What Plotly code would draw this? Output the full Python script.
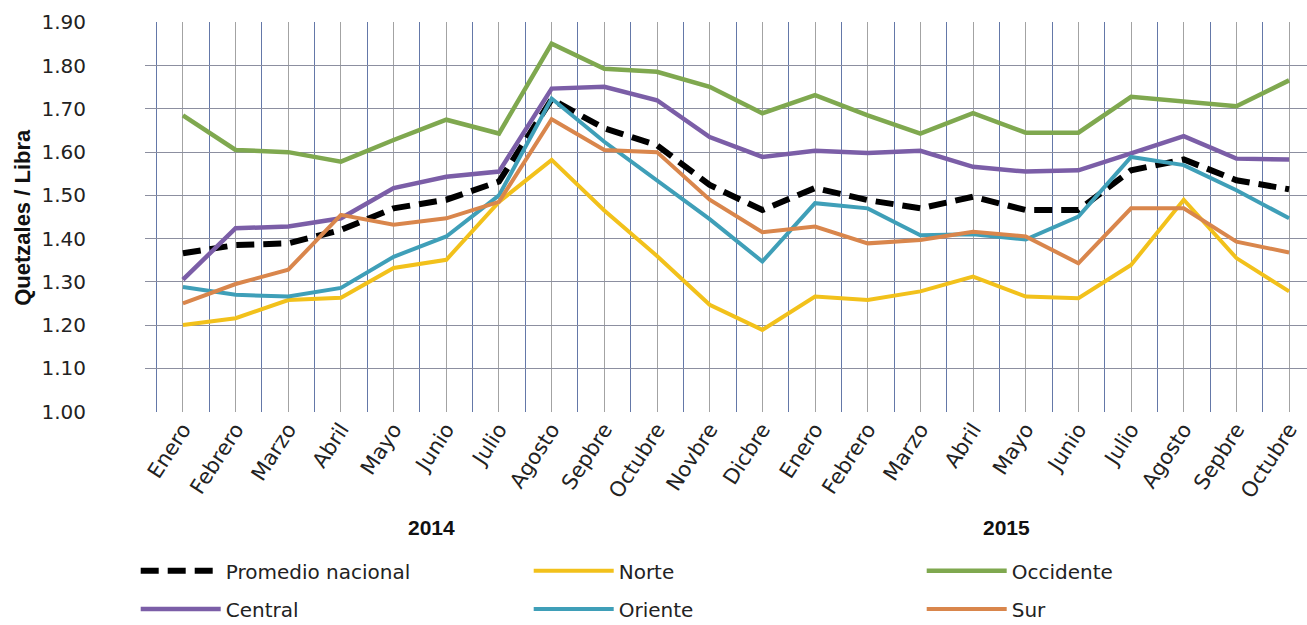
import plotly.graph_objects as go

meses = ["Enero", "Febrero", "Marzo", "Abril", "Mayo", "Junio", "Julio", "Agosto",
         "Sepbre", "Octubre", "Novbre", "Dicbre",
         "Enero", "Febrero", "Marzo", "Abril", "Mayo", "Junio", "Julio", "Agosto",
         "Sepbre", "Octubre"]
anios = ["2014", "2015"]

promedio = [1.366, 1.385, 1.389, 1.42, 1.47, 1.49, 1.532, 1.722, 1.655, 1.616, 1.524, 1.466,
            1.517, 1.489, 1.47, 1.497, 1.466, 1.466, 1.558, 1.583, 1.535, 1.514]
norte = [1.20, 1.216, 1.258, 1.263, 1.332, 1.351, 1.485, 1.582, 1.465, 1.36, 1.247, 1.189,
         1.266, 1.258, 1.278, 1.312, 1.266, 1.262, 1.339, 1.49, 1.355, 1.278]
occidente = [1.685, 1.605, 1.60, 1.578, 1.628, 1.675, 1.643, 1.851, 1.793, 1.786, 1.751, 1.69,
             1.732, 1.685, 1.643, 1.69, 1.645, 1.645, 1.728, 1.716, 1.706, 1.766]
central = [1.305, 1.424, 1.428, 1.447, 1.517, 1.543, 1.555, 1.747, 1.751, 1.72, 1.635, 1.589,
           1.603, 1.598, 1.603, 1.566, 1.555, 1.558, 1.597, 1.637, 1.585, 1.583]
oriente = [1.288, 1.27, 1.266, 1.286, 1.358, 1.405, 1.50, 1.724, 1.624, 1.535, 1.445, 1.347,
           1.482, 1.47, 1.408, 1.41, 1.398, 1.451, 1.589, 1.57, 1.512, 1.447]
sur = [1.25, 1.295, 1.328, 1.455, 1.432, 1.447, 1.485, 1.676, 1.605, 1.60, 1.49, 1.415,
       1.428, 1.389, 1.397, 1.416, 1.405, 1.343, 1.47, 1.47, 1.393, 1.368]

x = list(range(len(meses)))

FONT = "DejaVu Sans"

series = [
    ("Promedio nacional", promedio, "#000000", 6, "18px,9px", "legend"),
    ("Norte", norte, "#F2C11B", 4, "solid", "legend"),
    ("Occidente", occidente, "#7FA84F", 4.5, "solid", "legend"),
    ("Central", central, "#7B5EA7", 4.5, "solid", "legend2"),
    ("Oriente", oriente, "#3F9FB8", 4, "solid", "legend2"),
    ("Sur", sur, "#D9864C", 4, "solid", "legend2"),
]

fig = go.Figure()
for name, vals, color, w, dash, leg in series:
    fig.add_trace(go.Scatter(
        x=x, y=vals, mode="lines", name=name,
        line=dict(color=color, width=w, dash=dash),
        legend=leg,
    ))

fig.update_layout(
    width=1307, height=625,
    margin=dict(l=145, r=0, t=22, b=213, autoexpand=False),
    paper_bgcolor="white", plot_bgcolor="white",
    font=dict(family=FONT, color="#222222"),
    showlegend=True,
    legend=dict(orientation="h", x=-0.008, xanchor="left", y=-0.357, yanchor="top",
                entrywidth=298, entrywidthmode="pixels", itemwidth=80,
                font=dict(family=FONT, size=20, color="#222222"), bgcolor="rgba(0,0,0,0)"),
    legend2=dict(orientation="h", x=-0.008, xanchor="left", y=-0.455, yanchor="top",
                 entrywidth=298, entrywidthmode="pixels", itemwidth=80,
                 font=dict(family=FONT, size=20, color="#222222"), bgcolor="rgba(0,0,0,0)"),
)

fig.update_xaxes(
    range=[-0.72, 21.34],
    tickmode="array", tickvals=x, ticktext=meses,
    tickangle=-57,
    tickfont=dict(family=FONT, size=21, color="#222222"),
    showgrid=True, gridcolor="#A3A3A3", gridwidth=1,
    minor=dict(tickvals=[i - 0.5 for i in range(len(meses) + 1)], showgrid=True,
               gridcolor="#6478A8", gridwidth=1.2, ticks=""),
    ticks="", showline=False, zeroline=False, automargin=False,
)

fig.update_yaxes(
    range=[0.999, 1.901],
    tickmode="array", tickvals=[1.0 + 0.1 * i for i in range(10)],
    ticktext=["%.2f" % (1.0 + 0.1 * i) for i in range(10)],
    tickfont=dict(family=FONT, size=20, color="#222222"),
    ticklabelstandoff=58,
    showgrid=True, gridcolor="#8C8FA0", gridwidth=1.3,
    ticks="", showline=False, zeroline=False, automargin=False,
)

fig.add_annotation(text="<b>Quetzales / Libra</b>", xref="paper", yref="paper",
                   x=-0.106, xanchor="center", y=0.5, yanchor="middle",
                   textangle=-90, showarrow=False,
                   font=dict(family="Liberation Sans", size=22, color="#111111"))

for label, xpos in zip(anios, [4.71, 15.63]):
    fig.add_annotation(text="<b>" + label + "</b>", xref="x", yref="paper",
                       x=xpos, y=-0.297, yanchor="middle", showarrow=False,
                       font=dict(family="Liberation Sans", size=21, color="#111111"))

fig.write_html("out.html", config={"displayModeBar": False},
               post_script="document.body.style.margin='0';document.body.style.padding='0';")
